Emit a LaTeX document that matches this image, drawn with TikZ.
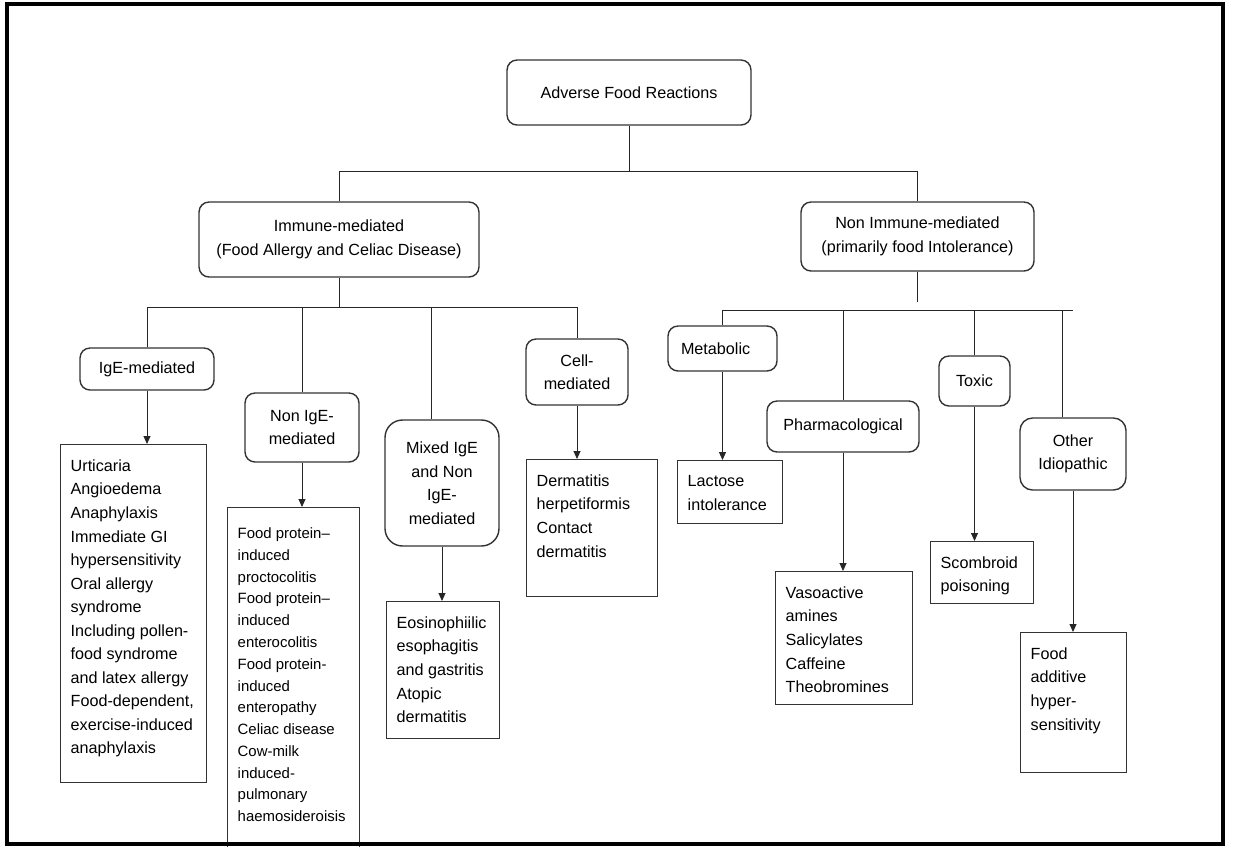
\documentclass[tikz,border=0pt]{standalone}
\usepackage{fontspec}
\setmainfont{Liberation Sans}
\usetikzlibrary{arrows.meta}
\newcommand{\boxtext}[4][.1cm]{\parbox[c][#3][t]{#2}{\raggedright\vspace*{#1}#4}}

\begin{document}
\begin{tikzpicture}
    [
        x = 0.02cm, y = -0.02cm,
        every node/.style = {font = \fontsize{9.2}{13.4}\selectfont, text = black},
        group/.style = {draw = black!80, line width = .8pt, rounded corners = .2cm, align = center, inner sep = 0pt},
        listbox/.style = {draw = black!80, line width = .8pt, anchor = north west, inner sep = .2cm},
        link/.style = {draw = black!85, line width = .5pt},
        arrow/.style = {link, -{Triangle[length = 1.6mm, width = 1.4mm]}}
    ]
    \useasboundingbox (0,0) rectangle (1237,846);

    % Draw the category boxes:
    \node [group, minimum width = 4.88cm, minimum height = 1.30cm] (root) at (629, 92.5) {Adverse Food Reactions};
    \node [group, minimum width = 5.60cm, minimum height = 1.50cm] (immune) at (339, 239.5) {Immune-mediated\\(Food Allergy and Celiac Disease)};
    \node [group, minimum width = 4.66cm, minimum height = 1.38cm] (nonimm) at (917.5, 236.5) {Non Immune-mediated\\(primarily food Intolerance)};

    \node [group, minimum width = 2.68cm, minimum height = 0.84cm] (ige) at (147, 369) {IgE-mediated};
    \node [group, minimum width = 2.28cm, minimum height = 1.38cm] (nonige) at (302, 427.5) {Non IgE-\\mediated};
    \node [group, minimum width = 2.28cm, minimum height = 2.52cm, rounded corners = .35cm] (mixed) at (442, 483) {Mixed IgE\\and Non\\IgE-\\mediated};
    \node [group, minimum width = 2.04cm, minimum height = 1.32cm] (cell) at (577, 372) {Cell-\\mediated};

    \node [group, minimum height = 0.90cm, inner xsep = .26cm, text width = 1.66cm, align = left] (metab) at (722.5, 348.5) {Metabolic};
    \node [group, minimum width = 3.04cm, minimum height = 1.02cm] (pharm) at (843, 426.5) {Pharmacological};
    \node [group, minimum width = 1.42cm, minimum height = 1.00cm] (toxic) at (974.5, 381) {Toxic};
    \node [group, minimum width = 2.12cm, minimum height = 1.44cm, rounded corners = .25cm] (other) at (1073, 454) {Other\\Idiopathic};

    % Draw the lists of reactions:
    \node [listbox] (igelist) at (60, 444) {\boxtext{2.52cm}{6.36cm}{Urticaria\\Angioedema\\Anaphylaxis\\Immediate GI\\hypersensitivity\\Oral allergy\\syndrome\\Including pollen-\\food syndrome\\and latex allergy\\Food-dependent,\\exercise-induced\\anaphylaxis}};
    \node [listbox, font = \fontsize{8.5}{12.4}\selectfont] (nonigelist) at (227, 507) {\boxtext[.2cm]{2.24cm}{6.56cm}{Food protein--\\induced\\proctocolitis\\Food protein--\\induced\\enterocolitis\\Food protein-\\induced\\enteropathy\\Celiac disease\\Cow-milk\\induced-\\pulmonary\\haemosideroisis}};
    \node [listbox] (mixedlist) at (386, 601) {\boxtext{1.86cm}{2.34cm}{Eosinophiilic\\esophagitis\\and gastritis\\Atopic\\dermatitis}};
    \node [listbox] (celllist) at (526, 459) {\boxtext{2.22cm}{2.34cm}{Dermatitis\\herpetiformis\\Contact\\dermatitis}};
    \node [listbox] (lactlist) at (677, 460) {\boxtext{1.70cm}{0.86cm}{Lactose\\intolerance}};
    \node [listbox] (pharmlist) at (775, 571) {\boxtext{2.34cm}{2.26cm}{Vasoactive\\amines\\Salicylates\\Caffeine\\Theobromines}};
    \node [listbox] (toxlist) at (930, 541) {\boxtext{1.66cm}{0.84cm}{Scombroid\\poisoning}};
    \node [listbox] (otherlist) at (1020, 632) {\boxtext{1.72cm}{2.40cm}{Food\\additive\\hyper-\\sensitivity}};

    % Draw the tree lines:
    \coordinate (bus1) at (0, 171);
    \coordinate (bus2) at (0, 307);
    \coordinate (stub) at (0, 302);
    \coordinate (bus3) at (0, 310);
    \draw [link] (root.south) -- (root.south |- bus1);
    \draw [link] (immune.north) |- (nonimm.north |- bus1) -- (nonimm.north);

    \draw [link] (immune.south) -- (immune.south |- bus2);
    \draw [link] (ige.north) |- (cell.north |- bus2) -- (cell.north);
    \draw [link] (nonige.north) -- (nonige.north |- bus2);
    \draw [link] ([xshift = -.22cm]mixed.north) -- ([xshift = -.22cm]mixed.north |- bus2);

    \draw [link] (nonimm.south) -- (nonimm.south |- stub);
    \draw [link] (metab.north) |- (other.north |- bus3);
    \foreach \n in {pharm, toxic}
        \draw [link] (\n.north) -- (\n.north |- bus3);
    \draw [link] ([xshift = -.22cm]other.north) -- ([xshift = -.22cm]other.north |- bus3);

    % Draw the arrows down to the lists:
    \foreach \a/\b in {ige/igelist, nonige/nonigelist, mixed/mixedlist, cell/celllist, metab/lactlist, pharm/pharmlist, toxic/toxlist, other/otherlist}
        \draw [arrow] (\a.south) -- (\a.south |- \b.north);

    % Draw the frame:
    \draw [line width = 2pt] (7,4) rectangle (1223,844);
\end{tikzpicture}
\end{document}
